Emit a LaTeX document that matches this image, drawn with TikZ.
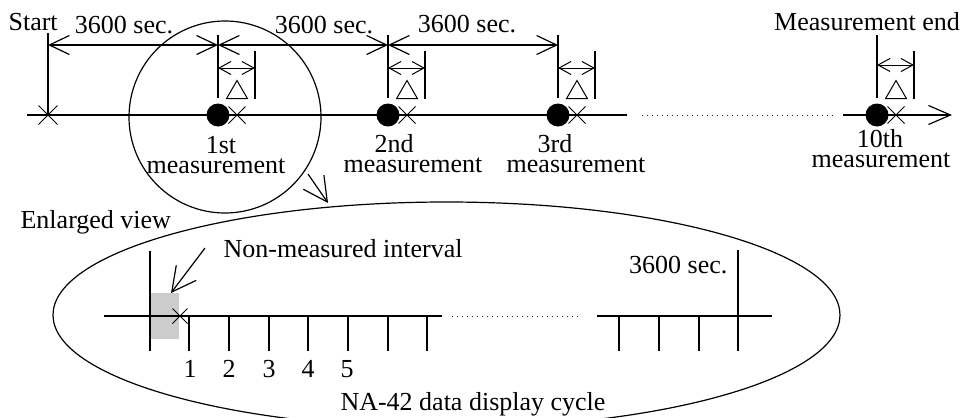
\documentclass[tikz,border=0pt]{standalone}
\usepackage{fontspec}
\setmainfont{Liberation Serif}
\usetikzlibrary{arrows.meta,shapes.misc,shapes.geometric}
\begin{document}
\begin{tikzpicture}[x=1pt,y=-1pt,line width=1.2pt,
  txt/.style={font=\fontsize{26}{26}\selectfont,inner sep=0pt,anchor=base},
  dotm/.style={circle,fill=black,minimum size=23pt,inner sep=0pt},
  crossm/.style={cross out,draw,minimum size=16pt,inner sep=0pt,line width=1pt},
  tri/.style={regular polygon,regular polygon sides=3,draw,line width=1pt,minimum size=24pt,inner sep=0pt,anchor=south},
  dimarr/.style={{Straight Barb[length=20pt,width=19pt]}-{Straight Barb[length=20pt,width=19pt]}},
  smallarr/.style={line width=1pt,{Straight Barb[length=12pt,width=13pt]}-{Straight Barb[length=12pt,width=13pt]}},
  bigarr/.style={-{Straight Barb[length=24pt,width=25pt]}},
  axarr/.style={-{Straight Barb[length=22pt,width=19pt]}},
  dots/.style={line width=1pt,dash pattern=on 1.2pt off 3.8pt,black!90}
]
\useasboundingbox (0,0) rectangle (970,418);
\clip (0,0) rectangle (970,418);

% ---------- main time axis ----------
\coordinate (axL) at (27,115);
\coordinate (axM) at (627,115);
\coordinate (dotA) at (642,115);
\coordinate (dotB) at (833,115);
\coordinate (axR0) at (843,115);
\coordinate (axR) at (952,115);
\draw (axL) -- (axM);
\draw[dots] (dotA) -- (dotB);
\draw[axarr] (axR0) -- (axR);

% start
\node[crossm,minimum size=18pt] (st) at (48,115) {};
\coordinate (stTop) at (48,33);
\draw (st.center) -- (stTop);
\node[txt,anchor=base west] (lstart) at (8,30) {Start};

% measurements
\foreach \n/\d/\yd in {m1/218/68, m2/388/68, m3/558/68, m10/877/65}{
  \coordinate (\n top) at (\d,35);
  \coordinate (\n bot) at (\d,98);
  \coordinate (\n rtop) at (\d+37,51);
  \coordinate (\n rbot) at (\d+37,99);
  \coordinate (\n dl) at (\d,\yd);
  \coordinate (\n dr) at (\d+37,\yd);
  \draw (\n top) -- (\n bot);
  \draw (\n rtop) -- (\n rbot);
  \draw[smallarr] (\n dl) -- (\n dr);
  \node[tri] (\n tri) at (\d+19,99) {};
  \node[crossm] (\n x) at (\d+19,115) {};
  \node[dotm] (\n) at (\d,115) {};
}

% dimension lines
\coordinate (d0) at (48,45);
\coordinate (d1) at (218,45);
\coordinate (d2) at (388,45);
\coordinate (d3) at (558,45);
\draw[dimarr] (d0) -- (d1);
\draw[dimarr] (d1) -- (d2);
\draw[dimarr] (d2) -- (d3);
\node[txt] (s1) at (124,33) {3600 sec.};
\node[txt] (s2) at (324,33) {3600 sec.};
\node[txt] (s3) at (467,32) {3600 sec.};
\node[txt] (lend) at (867,30) {Measurement end};

% measurement labels
\node[txt] (l1a) at (221,153) {1st};
\node[txt] (l1b) at (216,173) {measurement};
\node[txt] (l2a) at (394,152) {2nd};
\node[txt] (l2b) at (413,172) {measurement};
\node[txt] (l3a) at (555,152) {3rd};
\node[txt] (l3b) at (576,172) {measurement};
\node[txt] (l10a) at (880,147) {10th};
\node[txt] (l10b) at (881,167) {measurement};

% circle and enlargement arrow
\node[circle,draw,minimum size=192pt,inner sep=0pt] (circ) at (225,117) {};
\coordinate (ca) at (308,174);
\coordinate (cb) at (328,203);
\draw[bigarr] (ca) -- (cb);

% ---------- enlarged view ----------
\node[ellipse,draw,minimum width=787pt,minimum height=226pt,inner sep=0pt] (ell) at (446.5,315) {};
\node[txt,anchor=base west] (lenl) at (20,228) {Enlarged view};

\fill[gray!40] (150,293) rectangle (179,339);
\coordinate (tallT) at (150,251);
\coordinate (tallB) at (150,351);
\draw (tallT) -- (tallB);

\coordinate (iaL) at (104,316);
\coordinate (iaM) at (442,316);
\coordinate (idA) at (452,316);
\coordinate (idB) at (580,316);
\coordinate (iaR0) at (597,316);
\coordinate (iaR) at (772,316);
\draw (iaL) -- (iaM);
\draw[dots] (idA) -- (idB);
\draw (iaR0) -- (iaR);

\node[crossm,minimum size=14pt] (ix) at (180,316) {};

\foreach \x in {189,229,269,308,348,388,427,619,659,699}{
  \draw (\x,316) -- (\x,351);
}
\coordinate (endT) at (738,250);
\coordinate (endB) at (738,351);
\draw (endT) -- (endB);
\node[txt,anchor=base east] (ls) at (728,273) {3600 sec.};

\foreach \x/\k in {190/1,229/2,269/3,308/4,347/5}{
  \node[txt] (num\k) at (\x,377) {\k};
}

\node[txt,anchor=base west] (lnm) at (223,257) {Non-measured interval};
\coordinate (na) at (205,248);
\coordinate (nb) at (171,293);
\draw[bigarr] (na) -- (nb);

\node[txt] (lcyc) at (473,410) {NA-42 data display cycle};
\end{tikzpicture}
\end{document}
